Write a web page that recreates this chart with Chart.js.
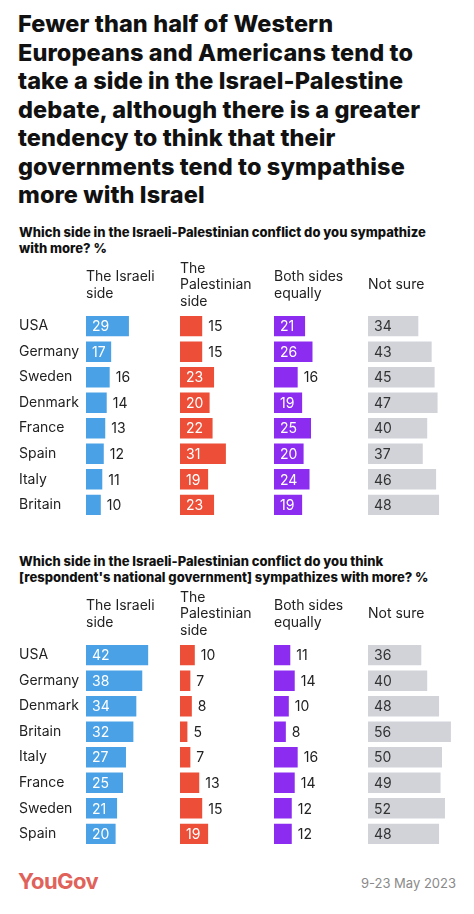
<!DOCTYPE html>
<html lang="en">
<head>
    <meta charset="UTF-8">
    <title>YouGov - Israel-Palestine sympathies</title>
    <script src="https://cdn.jsdelivr.net/npm/chart.js"></script>
    <style>
        body { margin: 0; width: 474px; height: 914px; background: #fff; position: relative; overflow: hidden; font-family: Inter, "Noto Sans", sans-serif; color: #111; }
        .title { position: absolute; left: 18px; top: 10px; width: 456px; font-size: 23.5px; line-height: 28.5px; font-weight: 800; letter-spacing: 0.1px; white-space: nowrap; }
        .sub { position: absolute; left: 19px; width: 455px; font-size: 13px; line-height: 16px; font-weight: 800; white-space: nowrap; }
        .panel { position: absolute; left: 0; width: 474px; height: 268px; }
        .logo { position: absolute; left: 18px; top: 868px; font-size: 22px; font-weight: 700; color: #e0625a; letter-spacing: -0.6px; }
        .date { position: absolute; right: 18px; top: 875px; font-size: 13px; color: #8a8a8a; }
    </style>
</head>
<body>
    <div class="title">Fewer than half of Western<br>Europeans and Americans tend to<br>take a side in the Israel-Palestine<br>debate, although there is a greater<br>tendency to think that their<br>governments tend to sympathise<br>more with Israel</div>

    <div class="sub" style="top:224px">Which side in the Israeli-Palestinian conflict do you sympathize<br>with more? %</div>
    <div class="panel" style="top:258px"><canvas id="chartOwn"></canvas></div>

    <div class="sub" style="top:553px">Which side in the Israeli-Palestinian conflict do you think<br>[respondent's national government] sympathizes with more? %</div>
    <div class="panel" style="top:587px"><canvas id="chartGov"></canvas></div>

    <div class="logo">YouGov</div>
    <div class="date">9-23 May 2023</div>

    <script>
        // columnas
        const headers = [
            ['The Israeli', 'side'],
            ['The', 'Palestinian', 'side'],
            ['Both sides', 'equally'],
            ['Not sure']
        ];
        const colors = ['#4aa1e6', '#ec4e37', '#8b2cf0', '#d1d3d9'];

        // panel 1: own sympathy
        const ownCountries = ['USA', 'Germany', 'Sweden', 'Denmark', 'France', 'Spain', 'Italy', 'Britain'];
        const ownIsraeli = [29, 17, 16, 14, 13, 12, 11, 10];
        const ownPalestinian = [15, 15, 23, 20, 22, 31, 19, 23];
        const ownBoth = [21, 26, 16, 19, 25, 20, 24, 19];
        const ownNotSure = [34, 43, 45, 47, 40, 37, 46, 48];

        // panel 2: government sympathy
        const govCountries = ['USA', 'Germany', 'Denmark', 'Britain', 'Italy', 'France', 'Sweden', 'Spain'];
        const govIsraeli = [42, 38, 34, 32, 27, 25, 21, 20];
        const govPalestinian = [10, 7, 8, 5, 7, 13, 15, 19];
        const govBoth = [11, 14, 10, 8, 16, 14, 12, 12];
        const govNotSure = [36, 40, 48, 56, 50, 49, 52, 48];

        const xMax = 63.5;
        const insideMin = 17;

        // etiquetas de valores
        const valueLabels = {
            id: 'valueLabels',
            afterDatasetsDraw(chart) {
                const ctx = chart.ctx;
                ctx.save();
                ctx.font = '14px Inter, "Noto Sans", sans-serif';
                ctx.textBaseline = 'middle';
                ctx.textAlign = 'left';
                chart.data.datasets.forEach((ds, i) => {
                    const meta = chart.getDatasetMeta(i);
                    meta.data.forEach((bar, j) => {
                        const v = ds.data[j];
                        const isGray = i === 3;
                        if (isGray || v >= insideMin) {
                            ctx.fillStyle = isGray ? '#333' : '#fff';
                            ctx.fillText(v, bar.base + 6, bar.y + 1);
                        } else {
                            ctx.fillStyle = '#222';
                            ctx.fillText(v, bar.x + 6, bar.y + 1);
                        }
                    });
                });
                ctx.restore();
            }
        };

        function generarGrafico(id, countries, series) {
            const ctx = document.getElementById(id).getContext('2d');
            const scales = {
                y: {
                    position: 'left',
                    offset: true,
                    grid: { display: false, drawTicks: false },
                    border: { display: false },
                    ticks: {
                        crossAlign: 'far',
                        padding: 0,
                        color: '#222',
                        font: { family: 'Inter, "Noto Sans", sans-serif', size: 14 }
                    },
                    afterFit(scale) { scale.width = 67; }
                }
            };
            // top axes get placed in reverse order, so add them last-to-first
            for (let i = headers.length - 1; i >= 0; i--) {
                const h = headers[i];
                const extra = (3 - h.length) * 8.4;
                scales['x' + i] = {
                    type: 'linear',
                    position: 'top',
                    stack: 'cols',
                    stackWeight: 1,
                    min: 0,
                    max: xMax,
                    grid: { display: false, drawTicks: false },
                    border: { display: false },
                    ticks: { display: false },
                    title: {
                        display: true,
                        text: h,
                        align: 'start',
                        color: '#222',
                        font: { family: 'Inter, "Noto Sans", sans-serif', size: 14, lineHeight: 1.2 },
                        padding: { top: 2 + extra, bottom: 3 + (3 - h.length) * 16.8 - extra }
                    }
                };
            }
            new Chart(ctx, {
                type: 'bar',
                data: {
                    labels: countries,
                    datasets: series.map((d, i) => ({
                        label: headers[i].join(' '),
                        data: d,
                        xAxisID: 'x' + i,
                        backgroundColor: colors[i],
                        borderWidth: 0,
                        grouped: false,
                        barPercentage: 0.8,
                        categoryPercentage: 1
                    }))
                },
                options: {
                    indexAxis: 'y',
                    responsive: true,
                    maintainAspectRatio: false,
                    animation: false,
                    layout: { padding: { left: 19, right: 12, top: 0, bottom: 0 } },
                    plugins: {
                        legend: { display: false },
                        tooltip: { enabled: false }
                    },
                    scales
                },
                plugins: [valueLabels]
            });
        }

        generarGrafico('chartOwn', ownCountries, [ownIsraeli, ownPalestinian, ownBoth, ownNotSure]);
        generarGrafico('chartGov', govCountries, [govIsraeli, govPalestinian, govBoth, govNotSure]);
    </script>
</body>
</html>
